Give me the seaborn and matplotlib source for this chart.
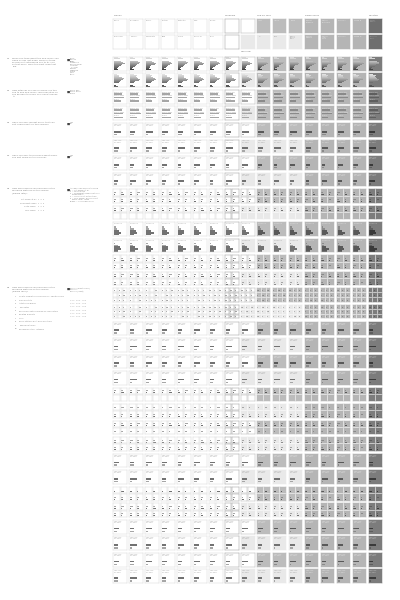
import textwrap
import numpy as np
import pandas as pd
import seaborn as sns
import matplotlib.pyplot as plt

sns.set_theme(style="white")
plt.rcParams["font.family"] = ["DejaVu Sans"]

# ---------------- data ----------------
group_names = ["Friends", "Workflow", "Top 50 fans", "Radio users", "Desktop"]
group_first_col = [0, 7, 9, 12, 16]
header_top = ["Friend", "Colleague", "Family", "Partner", "Flatmate", "Club", "Online",
              "", "", "Artist", "Album", "Track", "Playlist\nlisteners", "Station\nswitchers",
              "Genre A", "Mood B", "Player\nwidget"]
header_bottom = ["Neighbour", "Teacher", "Classmate", "Blog", "Forum", "Radio DJ", "Shop",
                 "", "", "TV", "Film", "Game\nsound\ntrack", "Playlist\nmakers", "Station\nloyal\nusers",
                 "Genre C", "Mood D", "Desktop\nclient"]
overview_label = "Overview"

q1_options = ["Radio", "Friends", "Blogs", "Streaming", "Record shop", "Live gig",
              "TV / film", "Playlist", "Magazine", "Forum", "Label", "Other"]
q1_values = [
    [0.30, 0.50, 0.45, 0.60, 0.80, 0.90, 0.70, 0.55, 0.40, 0.30, 0.20, 0.35],
    [0.25, 0.45, 0.40, 0.65, 0.85, 0.80, 0.60, 0.50, 0.45, 0.25, 0.15, 0.30],
    [0.35, 0.55, 0.50, 0.55, 0.70, 0.85, 0.75, 0.45, 0.35, 0.35, 0.25, 0.40],
]
q2_options = ["Every day", "Every week", "Rarely"]
q2_values = [[0.70, 0.85, 0.60], [0.65, 0.80, 0.75], [0.75, 0.90, 0.55]]
yes_no = ["Yes", "No"]
q3_values = [[0.55, 0.25], [0.45, 0.35], [0.60, 0.20]]
q4_values = [[0.40, 0.20], [0.30, 0.25], [0.50, 0.15]]
pair_values = [[0.45, 0.25], [0.35, 0.30], [0.55, 0.15]]
step_options = ["1", "2", "3", "4", "5"]
step_values = [[0.15, 0.25, 0.45, 0.60, 0.40],
               [0.10, 0.30, 0.50, 0.55, 0.35],
               [0.20, 0.25, 0.40, 0.65, 0.45]]
grid2_values = [
    [[0.40, 0.25], [0.30, 0.50], [0.45, 0.20], [0.25, 0.35]],
    [[0.30, 0.45], [0.50, 0.20], [0.35, 0.30], [0.40, 0.15]],
    [[0.50, 0.20], [0.25, 0.40], [0.30, 0.45], [0.35, 0.25]],
]
grid3_values = [
    [0.40, 0.30, 0.50, 0.20, 0.45, 0.35, 0.30, 0.50, 0.25],
    [0.35, 0.45, 0.25, 0.40, 0.30, 0.50, 0.45, 0.20, 0.35],
    [0.50, 0.25, 0.40, 0.35, 0.20, 0.45, 0.30, 0.40, 0.30],
]
# what each pair of rows shows
pair_kind = ["q1", "q2", "q3", "q4", "grid2", "steps", "grid2", "grid3",
             "pair", "pair", "grid2", "grid2", "pair", "grid2", "pair", "pair"]

questions = [
    ("Q1", "When you think about the new music you came across last week, which of these "
           "sources first introduced you to it? Tick all that apply.\nMark the most important one."),
    ("Q2", "How often do you use a service like this one to find new music, "
           "and how often do you go back to music you found through it?"),
    ("Q3", "Have you ever bought music that you first heard about on this service?"),
    ("Q4", "Have you ever told a friend about music you first heard on this service?"),
    ("Q5", "How useful would you find each of the following features "
           "on the service (please rate)?"),
    ("Q6", "How useful would you find each of the following features "
           "on the service (please rank)?"),
]
q5_table = ["Not useful at all", "Somewhat useful", "Quite useful", "Very useful"]
q6_list = ["Charts of what your friends play, updated daily", "Similar artists",
           "Artist biographies", "Tour dates", "Recommendations based on your history",
           "Related playlists", "Lyrics", "Radio stations built from one track",
           "Tagging of tracks", "Reviews by other listeners"]
legend_items = [
    q1_options,
    q2_options,
    yes_no,
    yes_no,
    ["Answer scale used in the grid", "1 = not useful at all", "2 = of little use",
     "3 = somewhat useful, but only", "   occasionally", "4 = useful most of the time",
     "5 = very useful, would use it", "   every time I listen", "Blank = no answer given"],
    ["Rank 1 (most useful)", "Rank 2", "Rank 3 (least)"],
]

# ---------------- layout ----------------
W, H = 400, 600
fig = plt.figure(figsize=(4, 6), dpi=100)
fig.patch.set_facecolor("white")

COL_X0, COL_STEP, CELL = 113.3, 15.95, 13.6
HEAD_Y = [19.0, 35.0]
PAIR_Y0, PAIR_STEP, ROW_STEP = 57.0, 33.07, 16.4
Q_Y = [58, 90, 122, 155, 188, 287]


def px_axes(x, y, w, h):
    ax = fig.add_axes([x / W, 1 - (y + h) / H, w / W, h / H])
    ax.set_xticks([])
    ax.set_yticks([])
    return ax


def cell_style(c, r, p):
    if c <= 6:
        return "white", "#d6d6d6"
    if c == 7:
        return "white", "#9c9c9c"
    if c == 8:
        return ("white", "#b4b4b4") if r == 0 else ("#e9e9e9", "#e9e9e9")
    if c <= 11:
        if r == 0 or p < 2:
            return "#bcbcbc", "#bcbcbc"
        return "#e9e9e9", "#e9e9e9"
    if c <= 15:
        return "#b5b5b5", "#b5b5b5"
    return "#7c7c7c", "#7c7c7c"


def ink(face):
    # dark bar, light bar, text
    if face == "#7c7c7c":
        return "#3a3a3a", "#5e5e5e", "#c8c8c8"
    if face in ("#bcbcbc", "#b5b5b5"):
        return "#595959", "#8a8a8a", "#e6e6e6"
    return "#727272", "#a6a6a6", "#a0a0a0"


def styled(ax, face, edge):
    ax.set_facecolor(face)
    for s in ax.spines.values():
        s.set_color(edge)
        s.set_linewidth(0.35)


def bar_cell(ax, options, values, colors, top_pad, bottom_pad=0.3, width=0.55):
    sns.barplot(x=values, y=options, hue=options, palette=colors, orient="h",
                width=width, legend=False, saturation=1, linewidth=0, ax=ax)
    n = len(options)
    ax.set_xlim(-0.08, 1.1)
    ax.set_ylim(n - 0.5 + bottom_pad, -0.5 - top_pad)
    ax.set_xlabel("")
    ax.set_ylabel("")
    ax.set_xticks([])
    ax.set_yticks([])


q1_palette = sns.color_palette("Greys", 18)[3:15]

# group labels and header cells
for name, c in zip(group_names, group_first_col):
    fig.text((COL_X0 + c * COL_STEP) / W, 1 - 16.5 / H, name, fontsize=1.7,
             color="#777777", va="bottom", ha="left")
fig.text((COL_X0 + 8 * COL_STEP) / W, 1 - 50.5 / H, overview_label, fontsize=1.6,
         color="#777777", va="top", ha="left")

for r, labels in enumerate([header_top, header_bottom]):
    for c in range(17):
        face, edge = cell_style(c, r, 99)
        if c == 16:
            face = edge = "#6f6f6f"
        ax = px_axes(COL_X0 + c * COL_STEP, HEAD_Y[r], CELL, CELL)
        styled(ax, face, edge)
        ax.text(0.07, 0.93, labels[c], transform=ax.transAxes, fontsize=1.4,
                va="top", ha="left", color=ink(face)[2], linespacing=1.1)

# data rows
for p, kind in enumerate(pair_kind):
    for r in range(2):
        y = PAIR_Y0 + p * PAIR_STEP + r * ROW_STEP
        for c in range(17):
            x = COL_X0 + c * COL_STEP
            face, edge = cell_style(c, r, p)
            dark, mid, txt = ink(face)
            v = (c + r) % 3
            if kind in ("grid2", "grid3"):
                k = 2 if kind == "grid2" else 3
                gap = 1.0
                tile = (CELL - (k - 1) * gap) / k
                for i in range(k):
                    for j in range(k):
                        t = i * k + j
                        ax = px_axes(x + j * (tile + gap), y + i * (tile + gap), tile, tile)
                        styled(ax, face, edge)
                        if k == 2:
                            vals = grid2_values[v][t]
                            ax.barh([0, 1], vals, height=0.45, color=[mid, dark], linewidth=0)
                            ax.set_ylim(1.7, -1.6)
                        else:
                            ax.barh([0], [grid3_values[v][t]], height=0.5, color=mid,
                                    linewidth=0)
                            ax.set_ylim(0.8, -1.0)
                        ax.set_xlim(-0.15, 1.1)
                        ax.set_xticks([])
                        ax.set_yticks([])
                continue
            ax = px_axes(x, y, CELL, CELL)
            styled(ax, face, edge)
            if kind == "q1":
                bar_cell(ax, q1_options, q1_values[v], q1_palette, top_pad=0.3,
                         bottom_pad=0.3, width=0.85)
            elif kind == "q2":
                vals = q2_values[v]
                bar_cell(ax, q2_options, vals, [mid, mid, mid], top_pad=0.55, width=0.42)
                for i, opt in enumerate(q2_options):
                    ax.text(0.0, i - 0.3, opt, fontsize=1.3, color=txt, va="bottom")
            elif kind == "steps":
                vals = step_values[v]
                bar_cell(ax, step_options, vals, [mid, mid, dark, dark, dark],
                         top_pad=2.2, width=0.9)
                ax.text(0.07, 0.93, "Mean 3.4", transform=ax.transAxes, fontsize=1.3,
                        color=txt, va="top")
            else:
                vals = {"q3": q3_values, "q4": q4_values, "pair": pair_values}[kind][v]
                bar_cell(ax, yes_no, vals, [dark, mid], top_pad=2.6, width=0.6)
                label = "\n".join(f"{o} {int(round(val * 100))}%" for o, val in zip(yes_no, vals))
                ax.text(0.07, 0.93, label, transform=ax.transAxes, fontsize=1.3,
                        color=txt, va="top", linespacing=1.1)

# question texts on the left
for (qn, qt), qy, items in zip(questions, Q_Y, legend_items):
    fig.text(7 / W, 1 - qy / H, qn, fontsize=1.6, color="#666666", va="top")
    fig.text(12.5 / W, 1 - qy / H, textwrap.fill(qt, 40), fontsize=1.6,
             color="#808080", va="top", linespacing=1.6)
    fig.text(66.5 / W, 1 - (qy - 0.5) / H, "\u25a0", fontsize=2.4, color="#444444",
             va="top")
    fig.text(70 / W, 1 - qy / H, "\n".join(items), fontsize=1.4, color="#888888",
             va="top", linespacing=1.3)

for i, lab in enumerate(q5_table):
    fig.text(36 / W, 1 - (199 + i * 3.6) / H, lab, fontsize=1.4, color="#888888",
             va="top", ha="right")
    fig.text(38 / W, 1 - (199 + i * 3.6) / H, "1  2  3", fontsize=1.4, color="#888888",
             va="top")

for i, lab in enumerate(q6_list):
    fig.text(15 / W, 1 - (296 + i * 3.6) / H, f"{i + 1}.", fontsize=1.4, color="#888888",
             va="top")
    fig.text(19 / W, 1 - (296 + i * 3.6) / H, lab, fontsize=1.4, color="#888888",
             va="top")
for i in range(6):
    fig.text(70 / W, 1 - (300 + i * 3.2) / H, "1 2 3   4 5 6   7 8 9", fontsize=1.3,
             color="#999999", va="top")

fig.savefig("out.png", dpi=100, facecolor="white")
